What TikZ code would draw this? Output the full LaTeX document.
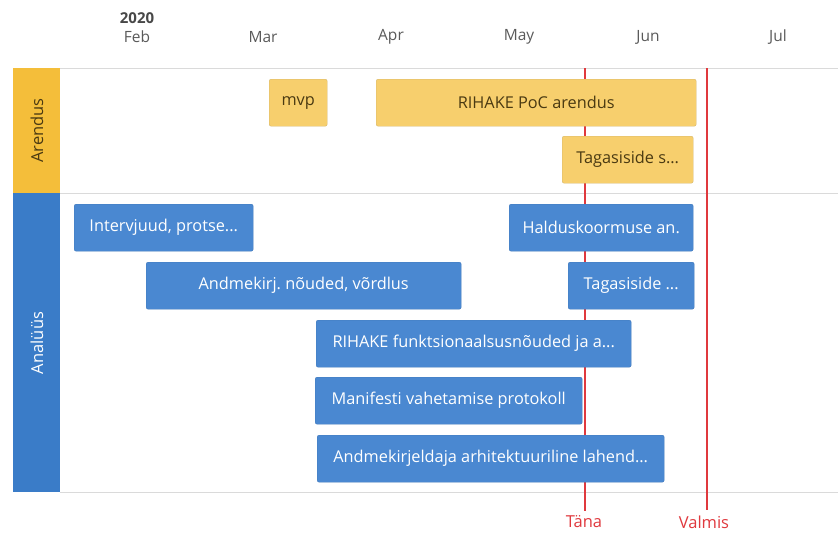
\documentclass[tikz,border=0pt]{standalone}
\usepackage{fontspec}
\setmainfont{Open Sans}
\frenchspacing
\definecolor{ybar}{HTML}{F7CF6D}
\definecolor{yband}{HTML}{F4BE3A}
\definecolor{ytext}{HTML}{4A3A12}
\definecolor{bbar}{HTML}{4A88D1}
\definecolor{bband}{HTML}{3A7CC8}
\definecolor{gridc}{HTML}{DADADA}
\definecolor{redc}{HTML}{E0393E}
\definecolor{monthc}{HTML}{5A5A5A}
\tikzset{
  barfont/.style={font=\fontsize{16.3}{18}\selectfont},
  ybarbox/.style={fill=ybar, draw=ybar!85!black!90, line width=0.4pt, rounded corners=2pt, text=ytext, barfont, anchor=north west, minimum height=47pt, inner sep=0pt},
  bbarbox/.style={fill=bbar, draw=bbar!90!black, line width=0.4pt, rounded corners=2pt, text=white, barfont, anchor=north west, minimum height=47pt, inner sep=0pt},
  month/.style={text=monthc, font=\fontsize{15.5}{17}\selectfont},
  gridline/.style={draw=gridc, line width=1pt},
  redline/.style={draw=redc, line width=1.8pt, shorten >=4pt},
  redlabel/.style={text=redc, font=\fontsize{16.5}{18}\selectfont, inner sep=1pt},
  lanelabel/.style={rotate=90, font=\fontsize{16.5}{18}\selectfont},
}
\begin{document}
\begin{tikzpicture}[x=1pt,y=-1pt]
\useasboundingbox[fill=white] (0,0) rectangle (838,533);
% header
\node[text=monthc!80!black, font=\bfseries\fontsize{15}{17}\selectfont] (year) at (137,18) {2020};
\node[month] (feb) at (137,37) {Feb};
\node[month] (mar) at (263,37) {Mar};
\node[month] (apr) at (391,37) {Apr};
\node[month] (may) at (519,37) {May};
\node[month] (jun) at (648,37) {Jun};
\node[month] (jul) at (778,37) {Jul};
% grid
\draw[gridline] (60,68) -- (838,68);
\draw[gridline] (60,193) -- (838,193);
\draw[gridline] (60,492) -- (838,492);
% lane bands
\fill[yband] (13,68) rectangle (60,193);
\fill[bband] (13,193) rectangle (60,492);
\node[lanelabel, text=ytext] (arendus) at (37,130.5) {Arendus};
\node[lanelabel, text=white] (analyys) at (37,343) {Analüüs};
% red lines
\node[redlabel] (tana) at (584,522) {Täna};
\node[redlabel] (valmis) at (704,522) {Valmis};
\coordinate (tanatop) at (585,68);
\coordinate (valmistop) at (707,68);
\draw[redline] (tanatop) -- (tanatop |- tana.north);
\draw[redline] (valmistop) -- (valmistop |- valmis.north);
% arendus bars
\node[ybarbox, minimum width=58pt] (mvp) at (269,79) {mvp};
\node[ybarbox, minimum width=320pt] (poc) at (376,79) {RIHAKE PoC arendus};
\node[ybarbox, minimum width=131pt] (tagy) at (562,136) {Tagasiside s...};
% analyys bars
\node[bbarbox, minimum width=179pt] (intv) at (74,204) {Intervjuud, protse...};
\node[bbarbox, minimum width=184pt] (hald) at (509,204) {Halduskoormuse an.};
\node[bbarbox, minimum width=315pt] (andm) at (146,262) {Andmekirj. nõuded, võrdlus};
\node[bbarbox, minimum width=126pt] (tagb) at (568,262) {Tagasiside ...};
\node[bbarbox, minimum width=315pt] (rfun) at (316,320) {RIHAKE funktsionaalsusnõuded ja a...};
\node[bbarbox, minimum width=267pt] (mani) at (315,377) {Manifesti vahetamise protokoll};
\node[bbarbox, minimum width=347pt] (arh) at (317,435) {Andmekirjeldaja arhitektuuriline lahend...};
\end{tikzpicture}
\end{document}
